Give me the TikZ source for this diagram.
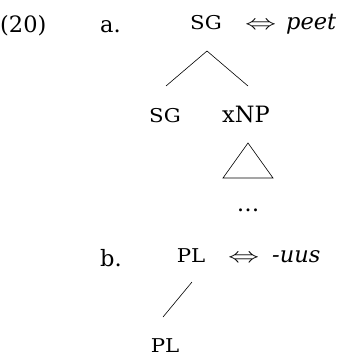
\documentclass[tikz,border=0pt]{standalone}
\usepackage{fontspec}
\setmainfont{DejaVu Serif}
\newcommand{\mysc}[1]{\scalebox{1.12}[1]{\fontsize{19}{21}\selectfont #1}}
\newcommand{\myiff}{\scalebox{1.5}[1]{$\Leftrightarrow$}}
\begin{document}
\begin{tikzpicture}[x=1pt,y=-1pt,
  txt/.style={inner sep=0pt,font=\fontsize{22.5}{26}\selectfont},
  br/.style={line width=0.6pt}]
\useasboundingbox (0,0) rectangle (341,356);
% labels
\node[txt,anchor=base west] (ex) at (0,32) {(20)};
\node[txt,anchor=base west] (la) at (100,32) {a.};
\node[txt,anchor=base west] (lb) at (100,266) {b.};
% tree a
\node[txt,anchor=base] (sg) at (206,29) {\mysc{SG}};
\node[txt,anchor=base west] (iffa) at (245,29) {\myiff};
\node[txt,anchor=base west] (peet) at (286,29) {\textit{peet}};
\coordinate (apex) at (207,51);
\coordinate (lend) at (166,86);
\coordinate (rend) at (248,86);
\draw[br] (lend) -- (apex) -- (rend);
\node[txt,anchor=base] (sgc) at (165,122) {\mysc{SG}};
\node[txt,anchor=base] (xnp) at (246,122) {xNP};
\coordinate (tt) at (248,143);
\coordinate (tl) at (223,178);
\coordinate (tr) at (273,178);
\draw[br] (tt) -- (tl) -- (tr) -- cycle;
\node[txt] (dots) at (248,210) {\dots};
% tree b
\node[txt,anchor=base] (pl) at (191,262) {\mysc{PL}};
\node[txt,anchor=base west] (iffb) at (228,262) {\myiff};
\node[txt,anchor=base west] (uus) at (272,262) {\textit{-uus}};
\coordinate (bt) at (192,282);
\coordinate (bb) at (163,317);
\draw[br] (bt) -- (bb);
\node[txt,anchor=base] (plc) at (165,352) {\mysc{PL}};
\end{tikzpicture}
\end{document}
